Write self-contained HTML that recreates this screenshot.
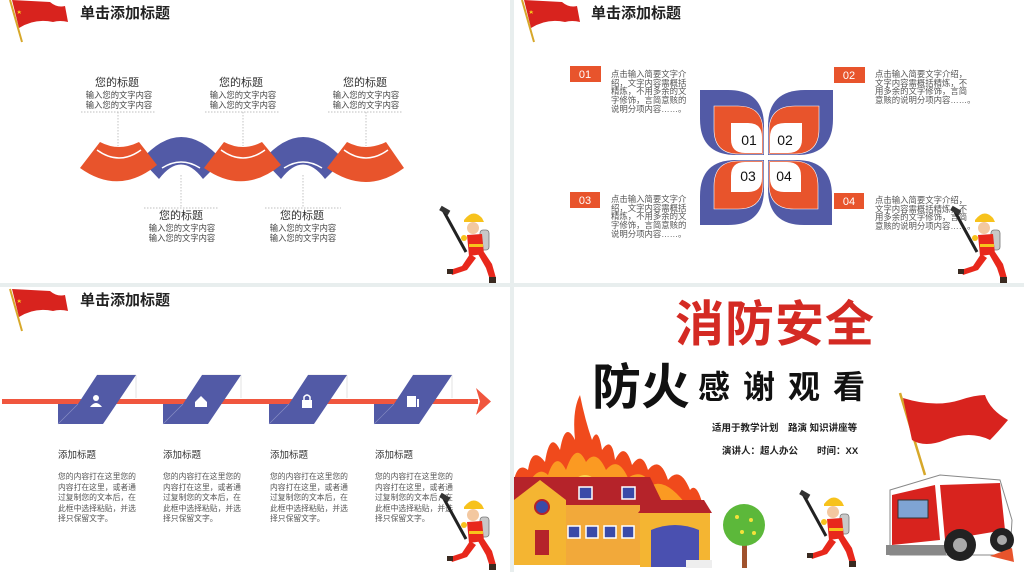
<!DOCTYPE html>
<html><head><meta charset="utf-8"><style>
html,body{margin:0;padding:0;background:#e8eeee;}
svg{display:block;}
text{font-family:"Liberation Sans","Noto Sans CJK SC",sans-serif;}
</style></head><body>
<svg width="1024" height="572" viewBox="0 0 1024 572" xmlns="http://www.w3.org/2000/svg">
<defs>
<g id="flag">
  <line x1="5" y1="0" x2="17" y2="42" stroke="#d7a82a" stroke-width="2"/>
  <path d="M7,0 L45,2 Q52,8 60,6 L63,22 Q55,20 48,22 Q30,18 14,28 Z" fill="#d8231e"/>
  <path d="M14,10 l2,4 l-4,-2.5 h4.5 l-4,2.5 z" fill="#f7d21a"/>
</g>
<g id="ff">
  <line x1="3" y1="2" x2="26" y2="44" stroke="#222" stroke-width="3"/>
  <rect x="0" y="0" width="10" height="5" fill="#333" transform="rotate(30 5 2)"/>
  <rect x="40" y="22" width="9" height="20" rx="3" fill="#c8c8c8" stroke="#777" stroke-width="0.8"/>
  <circle cx="33" cy="20" r="6" fill="#f3c8a0"/>
  <path d="M24,12 Q33,0 42,10 L44,14 L24,14 Z" fill="#f7c21c"/>
  <path d="M27,27 L42,26 L44,46 L29,48 Z" fill="#e8281c"/>
  <rect x="29" y="36" width="14" height="3" fill="#f7c21c"/>
  <circle cx="24" cy="30" r="3" fill="#f7c21c"/>
  <path d="M30,46 L22,58 L10,62 L12,67 L27,62 L36,50 Z" fill="#e8281c"/>
  <path d="M38,46 L46,60 L50,72 L56,70 L52,56 L44,44 Z" fill="#e8281c"/>
  <rect x="7" y="61" width="6" height="5" fill="#3a2a20"/>
  <rect x="49" y="69" width="7" height="6" fill="#3a2a20"/>
</g>
</defs>

<rect x="0" y="0" width="510" height="283" fill="#fff"/>
<rect x="514" y="0" width="510" height="283" fill="#fff"/>
<rect x="0" y="287" width="510" height="285" fill="#fff"/>
<rect x="514" y="287" width="510" height="285" fill="#fff"/>

<!-- ===== Panel 1 ===== -->
<use href="#flag" x="5" y="0"/>
<text x="80" y="18" font-size="15" font-weight="bold" fill="#222">单击添加标题</text>
<g fill="#525aa6">
  <path d="M141,160 Q181,114 222,160 L203,179 Q181,150 159,179 Z"/>
  <path d="M263,160 Q303,114 344,160 L325,179 Q303,150 281,179 Z"/>
</g>
<g fill="#e8542c">
  <path d="M80,168 L100,142 Q119,152 139,142 L157,165 Q119,196 80,168 Z"/>
  <path d="M204,168 L224,142 Q243,152 262,142 L281,165 Q243,196 204,168 Z"/>
  <path d="M327,168 L347,142 Q366,152 386,142 L404,168 Q366,196 327,168 Z"/>
</g>
<g stroke="#fff" stroke-width="1.5" fill="none">
  <path d="M97,150 Q119,166 141,150"/><path d="M221,150 Q243,166 265,150"/><path d="M344,150 Q366,166 388,150"/>
  <path d="M162,168 Q181,156 200,168"/><path d="M284,168 Q303,156 322,168"/>
</g>
<g stroke="#aaa" stroke-width="0.7" stroke-dasharray="1.5,1.5" fill="none">
  <path d="M81,112 H156 M118,112 V146"/>
  <path d="M205,112 H280 M243,112 V146"/>
  <path d="M328,112 H403 M366,112 V146"/>
  <path d="M144,208 H219 M181,175 V208"/>
  <path d="M265,208 H341 M303,175 V208"/>
</g>
<g text-anchor="middle" fill="#333">
  <g font-size="11"><text x="117" y="86">您的标题</text><text x="241" y="86">您的标题</text><text x="365" y="86">您的标题</text><text x="181" y="219">您的标题</text><text x="302" y="219">您的标题</text></g>
  <g font-size="8.3" fill="#444">
    <text x="119" y="98">输入您的文字内容</text><text x="119" y="108">输入您的文字内容</text>
    <text x="243" y="98">输入您的文字内容</text><text x="243" y="108">输入您的文字内容</text>
    <text x="366" y="98">输入您的文字内容</text><text x="366" y="108">输入您的文字内容</text>
    <text x="182" y="231">输入您的文字内容</text><text x="182" y="241">输入您的文字内容</text>
    <text x="303" y="231">输入您的文字内容</text><text x="303" y="241">输入您的文字内容</text>
  </g>
</g>
<use href="#ff" x="440" y="208"/>

<!-- ===== Panel 2 ===== -->
<use href="#flag" x="517" y="0"/>
<text x="591" y="18" font-size="15" font-weight="bold" fill="#222">单击添加标题</text>
<g fill="#e8542c">
  <rect x="570" y="66" width="31" height="16"/><rect x="834" y="67" width="31" height="16"/>
  <rect x="570" y="192" width="30" height="16"/><rect x="834" y="193" width="30" height="16"/>
</g>
<g fill="#fff" font-size="11" text-anchor="middle">
  <text x="585" y="78">01</text><text x="849" y="79">02</text><text x="585" y="204">03</text><text x="849" y="205">04</text>
</g>
<g font-size="8.4" fill="#555">
  <text x="611" y="77">点击输入简要文字介</text><text x="611" y="86">绍，文字内容需概括</text><text x="611" y="94">精炼，不用多余的文</text><text x="611" y="103">字修饰，言简意赅的</text><text x="611" y="112">说明分项内容……。</text>
  <text x="875" y="77">点击输入简要文字介绍，</text><text x="875" y="86">文字内容需概括精炼，不</text><text x="875" y="94">用多余的文字修饰，言简</text><text x="875" y="103">意赅的说明分项内容……。</text>
  <text x="611" y="202">点击输入简要文字介</text><text x="611" y="211">绍，文字内容需概括</text><text x="611" y="219">精炼，不用多余的文</text><text x="611" y="228">字修饰，言简意赅的</text><text x="611" y="237">说明分项内容……。</text>
  <text x="875" y="203">点击输入简要文字介绍，</text><text x="875" y="212">文字内容需概括精炼，不</text><text x="875" y="220">用多余的文字修饰，言简</text><text x="875" y="229">意赅的说明分项内容……。</text>
</g>
<g>
  <path d="M700,90 H728 Q764,90 764,126 V155 H736 Q700,155 700,119 Z" fill="#525aa6"/>
  <path d="M714,106 H738 Q763,106 763,131 V154 H739 Q714,154 714,129 Z" fill="#e8542c" stroke="#fff" stroke-width="0.6"/>
  <path d="M731,123 H748 Q762,123 762,137 V153 H745 Q731,153 731,139 Z" fill="#fff"/>
  <path d="M833,90 H805 Q768,90 768,126 V155 H797 Q833,155 833,119 Z" fill="#525aa6"/>
  <path d="M819,106 H795 Q769,106 769,131 V154 H794 Q819,154 819,129 Z" fill="#e8542c" stroke="#fff" stroke-width="0.6"/>
  <path d="M802,123 H785 Q770,123 770,137 V153 H788 Q802,153 802,139 Z" fill="#fff"/>
  <path d="M700,225 H728 Q764,225 764,189 V160 H736 Q700,160 700,196 Z" fill="#525aa6"/>
  <path d="M714,209 H738 Q763,209 763,184 V161 H739 Q714,161 714,186 Z" fill="#e8542c" stroke="#fff" stroke-width="0.6"/>
  <path d="M731,192 H748 Q762,192 762,178 V162 H745 Q731,162 731,176 Z" fill="#fff"/>
  <path d="M832,225 H804 Q768,225 768,189 V160 H796 Q832,160 832,196 Z" fill="#525aa6"/>
  <path d="M818,209 H794 Q769,209 769,184 V161 H793 Q818,161 818,186 Z" fill="#e8542c" stroke="#fff" stroke-width="0.6"/>
  <path d="M801,192 H784 Q770,192 770,178 V162 H787 Q801,162 801,176 Z" fill="#fff"/>
</g>
<g font-size="14" fill="#111" text-anchor="middle">
  <text x="749" y="145">01</text><text x="785" y="145">02</text><text x="748" y="181">03</text><text x="784" y="181">04</text>
</g>
<use href="#ff" x="951" y="208"/>

<!-- ===== Panel 3 ===== -->
<use href="#flag" x="5" y="289"/>
<text x="80" y="305" font-size="15" font-weight="bold" fill="#222">单击添加标题</text>
<rect x="2" y="399" width="476" height="5" fill="#f0563e"/>
<path d="M476,388 L491,401.5 L476,415 L480,401.5 Z" fill="#f0563e"/>
<g id="pg">
  <path d="M136,375 V398 M97,375 H136" stroke="#ddd" stroke-width="0.8" fill="none"/>
  <path d="M97,375 L136,375 L103,424 L58,424 L58,404 L78,404 Z" fill="#525aa6"/>
  <line x1="58" y1="424" x2="78" y2="404" stroke="#8a90c4" stroke-width="0.6"/>
</g>
<use href="#pg" x="105"/><use href="#pg" x="211"/><use href="#pg" x="316"/>
<g fill="#fff">
  <circle cx="96" cy="398" r="3"/><path d="M90,407 Q96,399 102,407 Z"/>
  <path d="M195,402 L201,396 L207,402 V407 H195 Z"/>
  <rect x="302" y="400" width="10" height="8"/><path d="M304,400 V397 Q307,393 310,397 V400" stroke="#fff" stroke-width="1.5" fill="none"/>
  <rect x="407" y="396" width="9" height="11"/><rect x="417" y="399" width="2" height="8"/>
</g>
<g font-size="9.5" fill="#333">
  <text x="58" y="458">添加标题</text><text x="163" y="458">添加标题</text><text x="270" y="458">添加标题</text><text x="375" y="458">添加标题</text>
</g>
<g font-size="7.8" fill="#555">
  <g id="body">
  <text x="58" y="479">您的内容打在这里您的</text><text x="58" y="490">内容打在这里，或者通</text><text x="58" y="500">过复制您的文本后，在</text><text x="58" y="511">此框中选择粘贴，并选</text><text x="58" y="521">择只保留文字。</text>
  </g>
  <use href="#body" x="105"/><use href="#body" x="212"/><use href="#body" x="317"/>
</g>
<use href="#ff" x="440" y="495"/>

<!-- ===== Panel 4 ===== -->
<text x="775" y="341" font-size="49" font-weight="bold" fill="#d42a23" text-anchor="middle" letter-spacing="1" stroke="#fff" stroke-width="0.5" style="paint-order:stroke">消防安全</text>
<text x="592" y="404" font-size="49" font-weight="bold" fill="#111">防火</text>
<text x="698" y="398" font-size="32" font-weight="bold" fill="#111" letter-spacing="13">感谢观看</text>
<text x="712" y="431" font-size="9.5" font-weight="bold" fill="#222">适用于教学计划　路演  知识讲座等</text>
<text x="722" y="454" font-size="9.5" font-weight="bold" fill="#222">演讲人：超人办公　　时间：XX</text>
<g>
  <path d="M514,480 Q518,462 528,470 Q532,445 545,462 Q550,430 560,450 Q565,420 575,440 Q572,410 580,395 Q585,420 592,440 Q598,425 602,450 Q612,435 615,460 Q625,440 632,465 Q642,450 648,470 Q660,455 668,480 Q680,465 690,490 Q698,480 705,515 L514,515 Z" fill="#f04a1c"/>
  <path d="M528,485 Q538,465 548,475 Q556,450 566,470 Q576,440 586,462 Q596,448 606,470 Q618,455 628,478 Q642,468 652,485 Q668,478 690,510 L528,510 Z" fill="#fb9a22"/>
  <path d="M545,490 Q560,475 570,485 Q585,465 600,485 Q615,475 630,490 Z" fill="#fdd44a"/>
</g>
<polygon points="514,477 650,477 666,510 514,510" fill="#b5232a"/>
<polygon points="514,500 540,480 566,500 566,565 514,565" fill="#f4b532"/>
<polygon points="566,505 640,505 640,565 566,565" fill="#f2a93a"/>
<circle cx="542" cy="507" r="7" fill="#3a4aa8" stroke="#b5232a" stroke-width="2"/>
<rect x="535" y="530" width="14" height="25" fill="#b5232a"/>
<g fill="#3a4aa8" stroke="#fff" stroke-width="1.5">
  <rect x="579" y="487" width="13" height="12"/><rect x="622" y="487" width="13" height="12"/>
  <rect x="568" y="526" width="12" height="12"/><rect x="586" y="526" width="12" height="12"/><rect x="604" y="526" width="12" height="12"/><rect x="622" y="526" width="12" height="12"/>
</g>
<polygon points="638,513 648,500 704,500 712,513" fill="#b5232a"/>
<rect x="640" y="513" width="70" height="54" fill="#f4b532"/>
<path d="M651,567 V530 Q675,520 699,530 V567 Z" fill="#4a50b0"/>
<rect x="686" y="560" width="26" height="8" fill="#eee"/>
<rect x="742" y="540" width="5" height="28" fill="#a0522d"/>
<circle cx="744" cy="525" r="21" fill="#5cb83a"/>
<g fill="#f5e23a"><circle cx="737" cy="517" r="2"/><circle cx="751" cy="520" r="2"/><circle cx="742" cy="532" r="2"/><circle cx="754" cy="533" r="2"/></g>
<use href="#ff" x="800" y="492"/>
<line x1="900" y1="393" x2="925" y2="475" stroke="#d7a82a" stroke-width="2.5"/>
<path d="M903,398 Q935,408 960,400 Q975,395 985,395 Q990,410 1008,420 Q998,432 990,440 Q970,430 945,440 Q925,448 912,440 Z" fill="#d8231e"/>
<path d="M890,490 L940,475 L1000,480 L1012,520 L1010,555 L890,555 Z" fill="#fff" stroke="#888" stroke-width="1"/>
<path d="M892,495 L935,485 L940,540 L892,545 Z" fill="#d8231e"/>
<rect x="898" y="500" width="30" height="18" fill="#7fa4d4" stroke="#333" stroke-width="1"/>
<path d="M940,485 L1000,483 L1005,530 L945,540 Z" fill="#d8231e"/>
<rect x="886" y="545" width="60" height="10" fill="#888"/>
<circle cx="960" cy="545" r="16" fill="#222"/><circle cx="960" cy="545" r="7" fill="#aaa"/>
<circle cx="1002" cy="540" r="12" fill="#222"/><circle cx="1002" cy="540" r="5" fill="#aaa"/>
<path d="M990,556 L1012,548 L1014,562 Z" fill="#e8542c"/>
</svg>
</body></html>
